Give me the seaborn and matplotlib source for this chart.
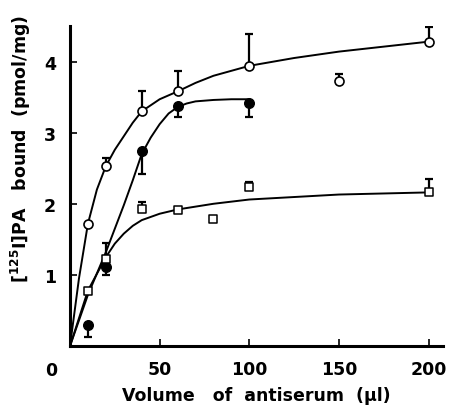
import matplotlib
matplotlib.use("Agg")
import matplotlib.pyplot as plt
import seaborn as sns

# Measured points (volume of antiserum, ul)
vol_open = [10, 20, 40, 60, 100, 150, 200]
bound_open = [1.71, 2.53, 3.31, 3.59, 3.94, 3.73, 4.28]
err_open_up = [0.0, 0.12, 0.28, 0.28, 0.45, 0.10, 0.20]

vol_filled = [10, 20, 40, 60, 100]
bound_filled = [0.30, 1.11, 2.74, 3.38, 3.42]
err_filled_down = [0.17, 0.11, 0.32, 0.16, 0.20]

vol_square = [10, 20, 40, 60, 80, 100, 200]
bound_square = [0.78, 1.22, 1.93, 1.91, 1.79, 2.24, 2.17]
err_square_up = [0.0, 0.23, 0.09, 0.0, 0.0, 0.07, 0.18]

# Fitted curves
curve_open_x = [0, 5, 10, 15, 20, 25, 30, 35, 40, 50, 60, 70, 80, 100, 125, 150, 175, 200]
curve_open_y = [0, 0.95, 1.72, 2.2, 2.53, 2.76, 2.95, 3.14, 3.3, 3.47, 3.58, 3.7, 3.8, 3.94, 4.05, 4.14, 4.21, 4.28]

curve_filled_x = [0, 10, 20, 30, 35, 40, 45, 50, 55, 60, 65, 70, 80, 90, 100]
curve_filled_y = [0, 0.72, 1.32, 1.98, 2.33, 2.7, 2.93, 3.12, 3.27, 3.36, 3.41, 3.44, 3.46, 3.47, 3.47]

curve_square_x = [0, 10, 20, 25, 30, 35, 40, 50, 60, 70, 80, 100, 150, 200]
curve_square_y = [0, 0.78, 1.25, 1.44, 1.58, 1.69, 1.77, 1.86, 1.92, 1.96, 2.0, 2.06, 2.13, 2.16]

x_ticks = [50, 100, 150, 200]
y_ticks = [1, 2, 3, 4]

sns.set_theme(style="ticks", rc={"text.color": "black", "axes.labelcolor": "black",
                                 "xtick.color": "black", "ytick.color": "black",
                                 "axes.edgecolor": "black"})
plt.rcParams["font.family"] = ["DejaVu Sans"]
plt.rcParams["font.weight"] = "bold"

fig = plt.figure(figsize=(4.49, 4.06), dpi=100)
ax = fig.add_axes([70 / 449, 1 - 347 / 406, 373 / 449, 320 / 406])

for cx, cy in [(curve_open_x, curve_open_y), (curve_filled_x, curve_filled_y),
               (curve_square_x, curve_square_y)]:
    sns.lineplot(x=cx, y=cy, ax=ax, color="black", linewidth=1.4, sort=False, zorder=2)

# error bars (one-sided)
ax.errorbar(vol_open, bound_open, yerr=[[0] * len(err_open_up), err_open_up],
            fmt="none", ecolor="black", elinewidth=1.6, capsize=3, capthick=1.6, zorder=3)
ax.errorbar(vol_filled, bound_filled, yerr=[err_filled_down, [0] * len(err_filled_down)],
            fmt="none", ecolor="black", elinewidth=1.6, capsize=3, capthick=1.6, zorder=3)
ax.errorbar(vol_square, bound_square, yerr=[[0] * len(err_square_up), err_square_up],
            fmt="none", ecolor="black", elinewidth=1.6, capsize=3, capthick=1.6, zorder=3)

sns.scatterplot(x=vol_open, y=bound_open, ax=ax, marker="o", s=42,
                facecolor="white", edgecolor="black", linewidth=1.2, zorder=4)
sns.scatterplot(x=vol_filled, y=bound_filled, ax=ax, marker="o", s=48,
                color="black", edgecolor="black", linewidth=1.0, zorder=4)
sns.scatterplot(x=vol_square, y=bound_square, ax=ax, marker="s", s=34,
                facecolor="white", edgecolor="black", linewidth=1.1, zorder=4)

ax.set_xlim(0, 208)
ax.set_ylim(0, 4.5)
ax.set_xticks(x_ticks)
ax.set_yticks(y_ticks)
ax.tick_params(direction="in", length=5, width=1.2, labelsize=12.5, pad=10)
for lab in ax.get_xticklabels() + ax.get_yticklabels():
    lab.set_fontweight("bold")
ax.text(-0.05, -0.075, "0", transform=ax.transAxes, ha="center", va="center",
        fontsize=12.5, fontweight="bold")

sns.despine(ax=ax)
for side in ["left", "bottom"]:
    ax.spines[side].set_linewidth(2.2)

ax.set_xlabel("Volume   of  antiserum  (\u03bcl)", fontsize=12.5, fontweight="bold", labelpad=6)
ax.set_ylabel("[$^{125}$I]PA   bound  (pmol/mg)", fontsize=12.5, fontweight="bold")
ax.yaxis.set_label_coords(-0.10, 0.62)

fig.savefig("out.png", dpi=100)
